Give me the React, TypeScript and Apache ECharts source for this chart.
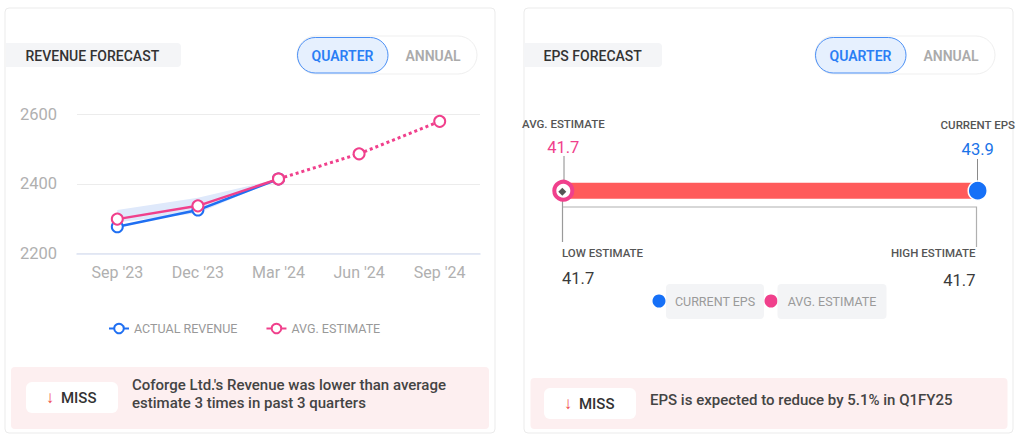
import React, { useEffect, useRef } from "react";
import * as echarts from "echarts";

// ---- Revenue forecast data ----
const quarters = ["Sep '23", "Dec '23", "Mar '24", "Jun '24", "Sep '24"];
const actualRevenue = [2277, 2325, 2414];
const avgEstimate = [2299, 2337, 2414, 2486, 2579];
const lowEstimate = [2290, 2316, 2414];
const highEstimate = [2325, 2360, 2414];
const reportedCount = 3;
const revenueTicks = { min: 2200, max: 2600, interval: 200 };

// ---- EPS forecast data ----
const epsNames = ["AVG. ESTIMATE", "CURRENT EPS"];
const epsValues = [41.7, 43.9];
const epsRangeNames = ["LOW ESTIMATE", "HIGH ESTIMATE"];
const epsRange = [41.7, 41.7];

// ---- texts ----
const revenueNote = ["Coforge Ltd.'s Revenue was lower than average", "estimate 3 times in past 3 quarters"];
const epsNote = "EPS is expected to reduce by 5.1% in Q1FY25";

const FONT = "Roboto, 'Noto Sans', sans-serif";
const BLUE = "#1f6ff2";
const PINK = "#f0408c";

function txt(x: number, y: number, text: string, size: number, fill: string, weight: any = 400, align = "left") {
  return {
    type: "text",
    x,
    y,
    style: { text, fontSize: size, fontWeight: weight, fontFamily: FONT, fill, align, verticalAlign: "middle" },
  };
}

function card(x: number, w: number) {
  return {
    type: "rect",
    shape: { x, y: 8, width: w, height: 425, r: 4 },
    style: { fill: "#fff", stroke: "#ebebeb", lineWidth: 1 },
  };
}

function header(x: number, w: number, title: string, tx: number, tgX: number) {
  return [
    { type: "rect", shape: { x, y: 43, width: w, height: 24, r: [0, 4, 4, 0] }, style: { fill: "#f4f5f7" } },
    txt(tx, 55.5, title, 14, "#333", 500),
    { type: "rect", shape: { x: tgX, y: 36, width: 180, height: 38, r: 19 }, style: { fill: "#fff", stroke: "#efefef", lineWidth: 1 } },
    { type: "rect", shape: { x: tgX + 0.5, y: 37.5, width: 90.5, height: 35.5, r: 18 }, style: { fill: "#e6f0fe", stroke: "#4a8ff5", lineWidth: 1 } },
    txt(tgX + 45.5, 55.5, "QUARTER", 14, "#2a7ef5", 600, "center"),
    txt(tgX + 136, 55.5, "ANNUAL", 14, "#ababab", 600, "center"),
  ];
}

function banner(x: number, y: number, w: number, h: number, bx: number, by: number) {
  return [
    { type: "rect", shape: { x, y, width: w, height: h, r: 4 }, style: { fill: "#fdeff0" } },
    { type: "rect", shape: { x: bx, y: by, width: 92, height: 31, r: 6 }, style: { fill: "#fff" } },
    txt(bx + 24, by + 15, "↓", 17, "#f04a4a", 400, "center"),
    txt(bx + 35, by + 15.5, "MISS", 15, "#333", 500),
  ];
}

export default function App() {
  const ref = useRef<HTMLDivElement>(null);

  useEffect(() => {
    if (!ref.current) return;
    const chart = echarts.init(ref.current, null, { renderer: "svg" });

    const solidAvg = avgEstimate.map((v, i) => (i < reportedCount ? v : null));
    const dottedAvg = avgEstimate.map((v, i) => (i >= reportedCount - 1 ? v : null));
    const bandSpan = highEstimate.map((v, i) => v - lowEstimate[i]);

    const graphics: any[] = [
      card(5, 490),
      card(524, 489),
      ...header(6, 175, "REVENUE FORECAST", 25.5, 297),
      ...header(524, 138, "EPS FORECAST", 543.5, 815),
      ...banner(11, 367, 478, 62, 26, 382),
      txt(132, 385, revenueNote[0], 15, "#444", 500),
      txt(132, 402.5, revenueNote[1], 15, "#444", 500),
      ...banner(530.5, 378, 477, 51, 544, 388),
      txt(650, 400, epsNote, 15, "#444", 500),
      // EPS header labels
      txt(522, 124, epsNames[0], 11.5, "#555", 500),
      txt(1015, 124.5, epsNames[1], 11.5, "#555", 500, "right"),
      // connectors
      { type: "line", shape: { x1: 564, y1: 156, x2: 564, y2: 181 }, style: { stroke: "#8a8a8a", lineWidth: 1 } },
      { type: "line", shape: { x1: 977.5, y1: 159, x2: 977.5, y2: 182 }, style: { stroke: "#8a8a8a", lineWidth: 1 } },
      // bracket
      { type: "polyline", shape: { points: [[562.5, 193], [562.5, 242]] }, style: { stroke: "#9a9a9a", lineWidth: 1.2, fill: null } },
      { type: "polyline", shape: { points: [[563, 207], [976.5, 207], [976.5, 247]] }, style: { stroke: "#b0b0b0", lineWidth: 1.2, fill: null } },
      txt(562, 253, epsRangeNames[0], 11.5, "#555", 500),
      txt(975.5, 253, epsRangeNames[1], 11.5, "#555", 500, "right"),
      txt(562, 278.5, String(epsRange[0]), 16.5, "#3a3a3a", 400),
      txt(975.5, 280, String(epsRange[1]), 16.5, "#3a3a3a", 400, "right"),
      // EPS legend
      { type: "circle", shape: { cx: 659, cy: 301, r: 6.5 }, style: { fill: "#1670f7" } },
      { type: "rect", shape: { x: 666, y: 284, width: 98, height: 35, r: 4 }, style: { fill: "#f3f4f6" } },
      txt(715, 301.5, epsNames[1], 12.5, "#9a9a9a", 400, "center"),
      { type: "circle", shape: { cx: 771, cy: 301, r: 6.5 }, style: { fill: PINK } },
      { type: "rect", shape: { x: 777.5, y: 284, width: 109, height: 35, r: 4 }, style: { fill: "#f3f4f6" } },
      txt(832, 301.5, epsNames[0], 12.5, "#9a9a9a", 400, "center"),
    ];

    chart.setOption({
      animation: false,
      textStyle: { fontFamily: FONT },
      graphic: graphics,
      grid: [
        { left: 77, top: 114, width: 403, height: 139.7 },
        { left: 563.3, top: 150.7, width: 414.4, height: 80 },
      ],
      xAxis: [
        {
          type: "category",
          gridIndex: 0,
          data: quarters,
          boundaryGap: true,
          axisTick: { show: false },
          axisLine: { lineStyle: { color: "#dde3f3", width: 1.5 } },
          axisLabel: { color: "#b0b0b0", fontSize: 16, margin: 11, fontFamily: FONT },
        },
        { type: "value", gridIndex: 1, min: epsValues[0], max: epsValues[1], show: false },
      ],
      yAxis: [
        {
          type: "value",
          gridIndex: 0,
          min: revenueTicks.min,
          max: revenueTicks.max,
          interval: revenueTicks.interval,
          axisLine: { show: false },
          axisTick: { show: false },
          splitLine: { lineStyle: { color: "#ececec", width: 1 } },
          axisLabel: { color: "#b0b0b0", fontSize: 16.5, margin: 20, fontFamily: FONT, formatter: (v: number) => String(v) },
        },
        { type: "value", gridIndex: 1, min: -1, max: 1, show: false },
      ],
      legend: [
        {
          data: ["ACTUAL REVENUE", "AVG. ESTIMATE"],
          left: 108,
          top: 322,
          padding: 0,
          itemWidth: 20,
          itemHeight: 12,
          itemGap: 28,
          textStyle: { color: "#999", fontSize: 12.5, fontFamily: FONT },
          selectedMode: false,
        },
      ],
      series: [
        {
          name: "low",
          type: "line",
          stack: "band",
          data: lowEstimate,
          symbol: "none",
          lineStyle: { opacity: 0 },
          silent: true,
          z: 1,
        },
        {
          name: "range",
          type: "line",
          stack: "band",
          data: bandSpan,
          symbol: "none",
          lineStyle: { opacity: 0 },
          areaStyle: { color: "#dfe9fb", opacity: 1 },
          silent: true,
          z: 1,
        },
        {
          name: "ACTUAL REVENUE",
          type: "line",
          data: actualRevenue,
          color: BLUE,
          symbol: "emptyCircle",
          symbolSize: 11,
          lineStyle: { width: 2.5, color: BLUE },
          itemStyle: { color: BLUE, borderWidth: 2.5 },
          z: 3,
        },
        {
          name: "AVG. ESTIMATE",
          type: "line",
          data: solidAvg,
          color: PINK,
          symbol: "emptyCircle",
          symbolSize: 11,
          lineStyle: { width: 2.5, color: PINK },
          itemStyle: { color: PINK, borderWidth: 2.5 },
          z: 4,
        },
        {
          name: "AVG. ESTIMATE",
          type: "line",
          data: dottedAvg,
          color: PINK,
          symbol: "emptyCircle",
          symbolSize: 11,
          lineStyle: { width: 3, color: PINK, type: [3, 3] },
          itemStyle: { color: PINK, borderWidth: 2.5 },
          z: 4,
        },
        // EPS range bar
        {
          name: "eps-bar",
          type: "line",
          xAxisIndex: 1,
          yAxisIndex: 1,
          data: epsValues.map((v) => [v, 0]),
          symbol: "none",
          lineStyle: { width: 16, color: "#ff5b5b", cap: "butt" },
          silent: true,
          z: 2,
        },
        {
          name: "eps-current",
          type: "scatter",
          xAxisIndex: 1,
          yAxisIndex: 1,
          data: [[epsValues[1], 0]],
          symbol: "circle",
          symbolSize: 19,
          itemStyle: { color: "#1670f7", borderColor: "#fff", borderWidth: 1.5, opacity: 1 },
          label: { show: true, position: "top", distance: 22, formatter: () => String(epsValues[1]), color: "#1a73e8", fontSize: 16.5, fontFamily: FONT },
          z: 5,
        },
        {
          name: "eps-avg",
          type: "scatter",
          xAxisIndex: 1,
          yAxisIndex: 1,
          data: [[epsValues[0], 0]],
          symbol: "circle",
          symbolSize: 18,
          itemStyle: { color: "#fff", borderColor: PINK, borderWidth: 4, opacity: 1 },
          label: { show: true, position: "top", distance: 24, formatter: () => String(epsValues[0]), color: PINK, fontSize: 16.5, fontFamily: FONT },
          z: 5,
        },
        {
          name: "eps-avg-mark",
          type: "scatter",
          xAxisIndex: 1,
          yAxisIndex: 1,
          data: [[epsValues[0], 0]],
          symbol: "diamond",
          symbolSize: 8,
          symbolOffset: [-1, 1],
          itemStyle: { color: "#555", opacity: 1 },
          z: 6,
        },
      ],
    });

    return () => chart.dispose();
  }, []);

  return <div ref={ref} style={{ position: "fixed", left: 0, top: 0, width: 1024, height: 437, background: "#fff" }} />;
}
